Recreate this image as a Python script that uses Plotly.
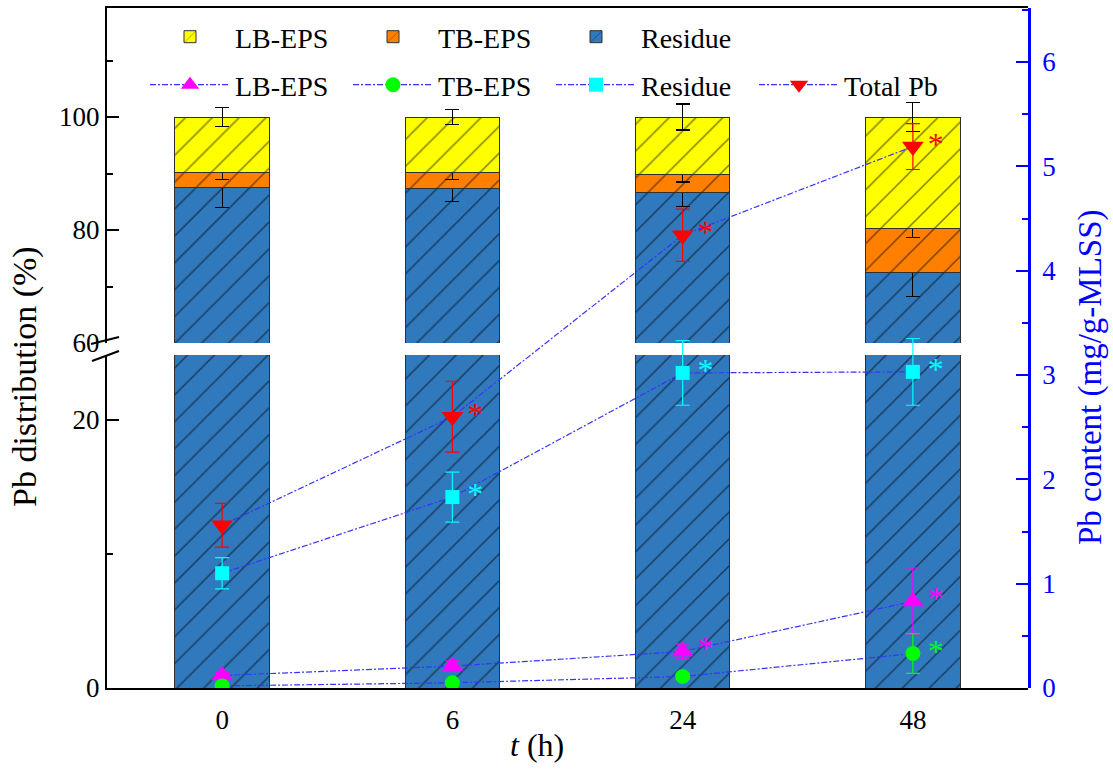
import plotly.graph_objects as go

# ---------------- data ----------------
times = ['0', '6', '24', '48']

# Pb distribution (%), left axis (stacked bars)
residue_pct = [87.6, 87.3, 86.7, 72.5]
tb_pct = [2.5, 2.9, 3.1, 7.8]
lb_pct = [9.9, 9.8, 10.2, 19.7]
residue_pct_err = [3.6, 2.3, 2.5, 4.2]
tb_pct_err = [1.2, 1.3, 1.3, 1.6]
lb_pct_err = [1.7, 1.3, 2.3, 2.6]

# Pb content (mg/g-MLSS), right axis
lb_content = [0.12, 0.21, 0.35, 0.83]
lb_content_err = [0.03, 0.05, 0.07, 0.32]
tb_content = [0.02, 0.05, 0.11, 0.33]
tb_content_err = [0.01, 0.02, 0.03, 0.19]
res_content = [1.10, 1.83, 3.02, 3.03]
res_content_err = [0.15, 0.24, 0.31, 0.32]
total_content = [1.56, 2.60, 4.34, 5.19]
total_content_err = [0.21, 0.34, 0.25, 0.22]

# significance marks
lb_sig = ['', '', '*', '*']
tb_sig = ['', '', '', '*']
res_sig = ['', '*', '*', '*']
total_sig = ['', '*', '*', '*']

# ---------------- style ----------------
FONT = 'Liberation Serif'
W, H = 1113, 770
L, R, T, B = 107, 85, 8, 82
PH = H - T - B
PW = W - L - R

def py(px):  # pixel y -> paper y
    return (H - B - px) / PH

def pxx(px):
    return (px - L) / PW

YELLOW, ORANGE, BLUE = '#FFFF00', '#FF8000', '#3179BD'
LINE = '#3535FF'
DASH = '6px,2px,2px,2px'

lower_dom = [0, py(355)]
upper_dom = [py(343), 1]
lower_rng = [0, (H - B - 355) / 13.4]
upper_rng = [60, 100 + (117 - T) / 5.65]
right_rng = [0, PH / 104.33]

fig = go.Figure()

bar_sets = [
    ('Residue', residue_pct, residue_pct_err, BLUE, 3),
    ('TB-EPS', tb_pct, tb_pct_err, ORANGE, 2),
    ('LB-EPS', lb_pct, lb_pct_err, YELLOW, 1),
]
for xa, ya, show in [('x', 'y', False), ('x2', 'y3', True)]:
    for name, vals, errs, col, rank in bar_sets:
        fig.add_trace(go.Bar(
            x=times, y=vals, name=name, xaxis=xa, yaxis=ya,
            width=0.41, showlegend=show, legend='legend', legendrank=rank,
            marker=dict(color=col, line=dict(color='#303030', width=1),
                        pattern=dict(shape='/', fgcolor='#000000', bgcolor=col,
                                     size=19, solidity=0.08)),
            error_y=dict(type='data', array=errs, color='#000000',
                         thickness=1.2, width=7),
        ))

line_sets = [
    ('LB-EPS', lb_content, lb_content_err, lb_sig, '#FF00FF', 'triangle-up', 19),
    ('TB-EPS', tb_content, tb_content_err, tb_sig, '#00FF00', 'circle', 15),
    ('Residue', res_content, res_content_err, res_sig, '#00FFFF', 'square', 14),
    ('Total Pb', total_content, total_content_err, total_sig, '#FF0000', 'triangle-down', 19),
]
for i, (name, vals, errs, sig, col, sym, sz) in enumerate(line_sets):
    fig.add_trace(go.Scatter(
        x=times, y=vals, name=name, xaxis='x3', yaxis='y2',
        mode='lines+markers', legend='legend2', legendrank=i + 1,
        line=dict(color=LINE, width=1.2, dash=DASH),
        marker=dict(symbol=sym, size=sz, color=col, line=dict(width=0)),
        error_y=dict(type='data', array=errs, color=col, thickness=1.2, width=7),
    ))
for name, vals, errs, sig, col, sym, sz in line_sets:
    fig.add_trace(go.Scatter(
        x=times, y=vals, xaxis='x3', yaxis='y2', mode='markers+text',
        text=sig, textposition='middle right', showlegend=False,
        marker=dict(size=22, opacity=0),
        textfont=dict(family=FONT, size=32, color=col),
        hoverinfo='skip',
    ))

axfont = dict(family=FONT, size=27, color='#000000')

fig.update_layout(
    width=W, height=H,
    margin=dict(l=L, r=R, t=T, b=B, autoexpand=False),
    paper_bgcolor='white', plot_bgcolor='rgba(0,0,0,0)',
    barmode='stack',
    font=dict(family=FONT, size=27, color='#000000'),
    xaxis=dict(domain=[0, 1], anchor='y', type='category',
               categoryorder='array', categoryarray=times, range=[-0.5, 3.5],
               showline=True, linecolor='#000000', linewidth=2, ticks='',
               ticklabelstandoff=7, tickfont=axfont, showgrid=False,
               zeroline=False, automargin=False),
    xaxis2=dict(domain=[0, 1], anchor='y3', matches='x', side='top',
                showline=True, linecolor='#000000', linewidth=2, automargin=False,
                showticklabels=False, ticks='', showgrid=False, zeroline=False),
    xaxis3=dict(domain=[0, 1], anchor='y2', matches='x', visible=False),
    yaxis=dict(domain=lower_dom, anchor='x', range=lower_rng, automargin=False,
               showline=True, linecolor='#000000', linewidth=2,
               ticks='inside', ticklen=12, tickwidth=2, tickcolor='#000000',
               tick0=0, dtick=20, tickfont=axfont, showgrid=False, zeroline=False,
               minor=dict(dtick=10, ticks='inside', ticklen=6, tickwidth=2,
                          tickcolor='#000000', showgrid=False)),
    yaxis3=dict(domain=upper_dom, anchor='x2', range=upper_rng, automargin=False,
                showline=True, linecolor='#000000', linewidth=2,
                ticks='inside', ticklen=12, tickwidth=2, tickcolor='#000000',
                tick0=0, dtick=20, tickfont=axfont, showgrid=False, zeroline=False,
                minor=dict(dtick=10, ticks='inside', ticklen=6, tickwidth=2,
                           tickcolor='#000000', showgrid=False)),
    yaxis2=dict(domain=[0, 1], anchor='x3', side='right', range=right_rng,
                automargin=False, ticklabelstandoff=6,
                showline=True, linecolor='#0000FF', linewidth=2.5,
                ticks='inside', ticklen=12, tickwidth=2, tickcolor='#0000FF',
                tick0=0, dtick=1, showgrid=False, zeroline=False,
                tickfont=dict(family=FONT, size=27, color='#0000FF'),
                minor=dict(dtick=0.5, ticks='inside', ticklen=6, tickwidth=2,
                           tickcolor='#0000FF', showgrid=False)),
    legend=dict(orientation='h', x=pxx(145), xanchor='left', y=py(37), yanchor='middle',
                font=dict(family=FONT, size=28, color='#000000'),
                bgcolor='rgba(0,0,0,0)', itemwidth=80,
                entrywidth=108, entrywidthmode='pixels', traceorder='normal'),
    legend2=dict(orientation='h', x=pxx(145), xanchor='left', y=py(85), yanchor='middle',
                 font=dict(family=FONT, size=28, color='#000000'),
                 bgcolor='rgba(0,0,0,0)', itemwidth=80,
                 entrywidth=108, entrywidthmode='pixels', traceorder='normal'),
    showlegend=True,
)

fig.add_annotation(text='<i>t</i> (h)', xref='paper', yref='paper',
                   x=pxx(537), y=py(745), showarrow=False,
                   font=dict(family=FONT, size=32, color='#000000'),
                   xanchor='center', yanchor='middle')
fig.add_annotation(text='Pb distribution (%)', xref='paper', yref='paper',
                   x=pxx(25), y=py(377), textangle=-90, showarrow=False,
                   font=dict(family=FONT, size=34, color='#000000'),
                   xanchor='center', yanchor='middle')
fig.add_annotation(text='Pb content (mg/g-MLSS)', xref='paper', yref='paper',
                   x=pxx(1090), y=py(377), textangle=-90, showarrow=False,
                   font=dict(family=FONT, size=33, color='#0000FF'),
                   xanchor='center', yanchor='middle')

# axis break marks
for (x0, y0, x1, y1) in [(91, 344, 119, 337), (92, 361, 119, 351)]:
    fig.add_shape(type='line', xref='paper', yref='paper',
                  x0=pxx(x0), y0=py(y0), x1=pxx(x1), y1=py(y1),
                  line=dict(color='#000000', width=2))

fig.write_html('out.html')
